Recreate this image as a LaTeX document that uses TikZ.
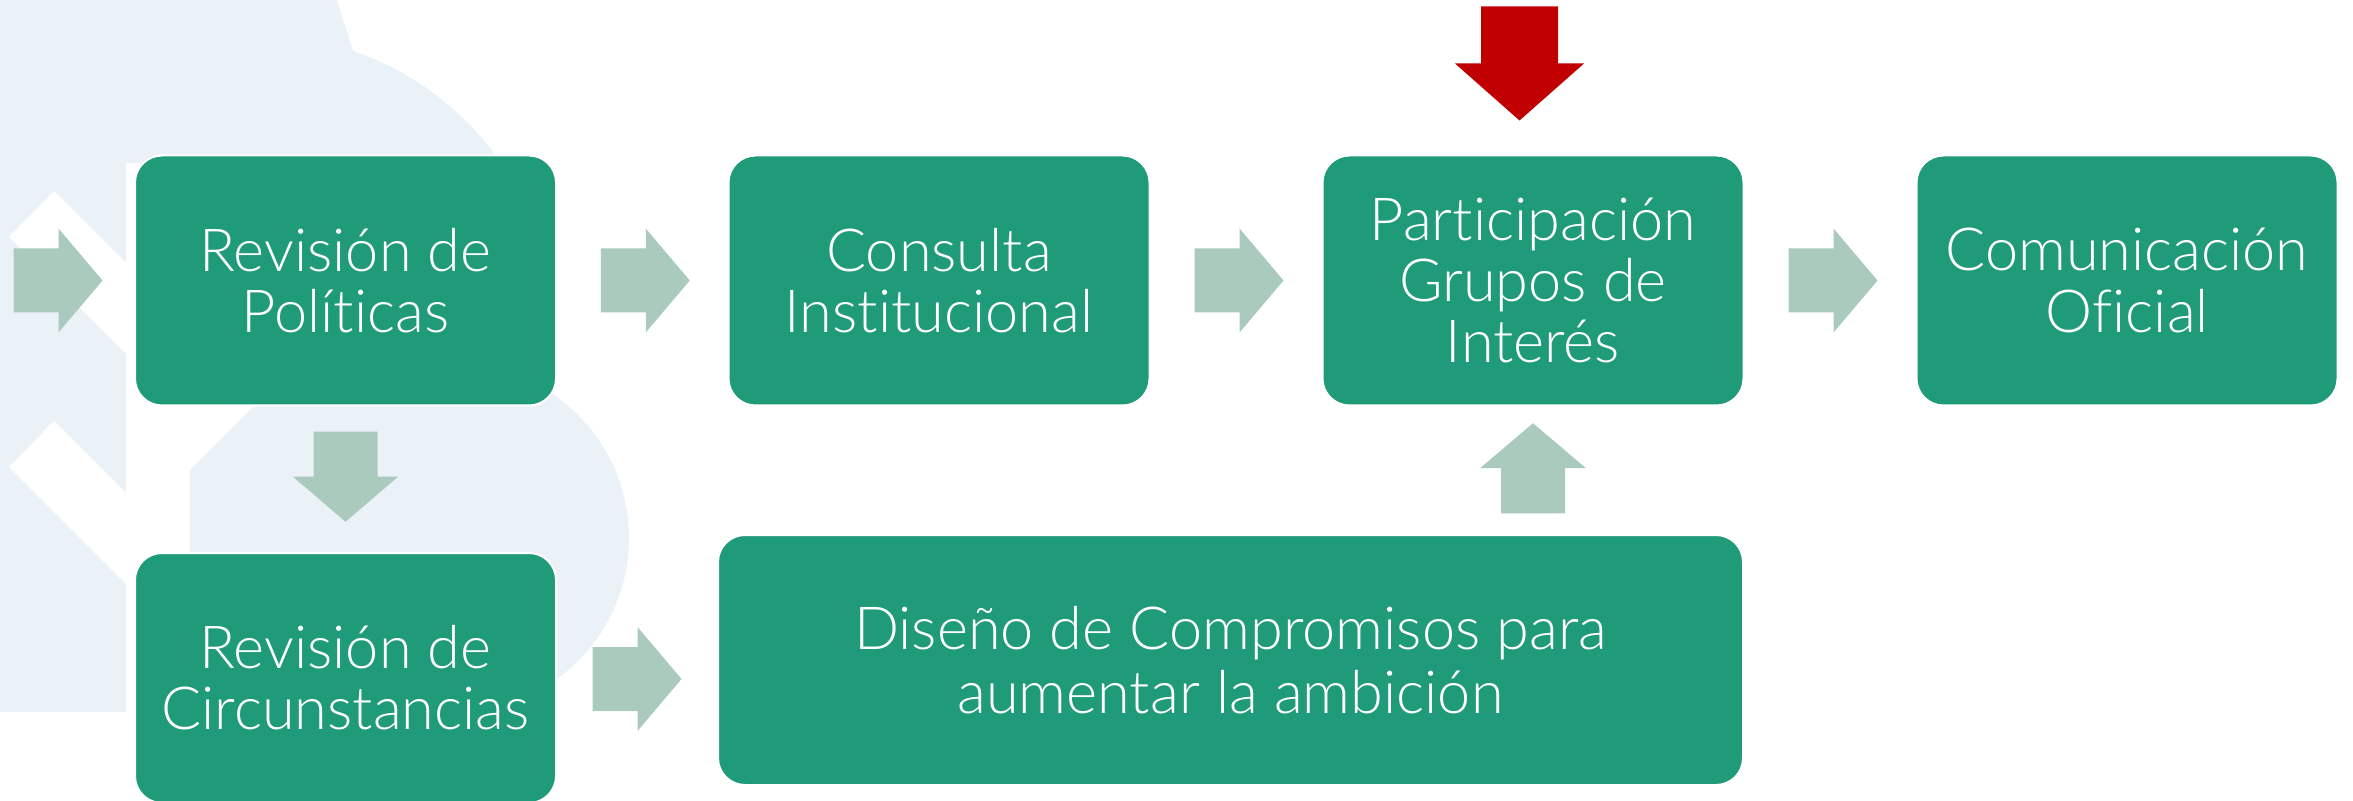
\documentclass[tikz,border=0pt]{standalone}
\usepackage{fontspec}
\IfFontExistsTF{Lato Light}{\setmainfont{Lato Light}[Ligatures={NoCommon,NoRare}]}{\setmainfont{Lato}[Ligatures={NoCommon,NoRare}]}
\usetikzlibrary{calc}
\definecolor{boxgreen}{HTML}{1F9B79}
\definecolor{sage}{HTML}{A9CABD}
\definecolor{wmblue}{HTML}{EAF2F8}
\definecolor{redarrow}{HTML}{C00000}
\newcommand{\rightblock}[1]{\fill[flowarrow] (#1) ++(-44.5,-32) -- ++(45,0) -- ++(0,-20) -- ++(44,52) -- ++(-44,52) -- ++(0,-20) -- ++(-45,0) -- cycle;}
\newcommand{\downblock}[1]{\fill[flowarrow] (#1) ++(-32,-45) -- ++(64,0) -- ++(0,45) -- ++(20.5,0) -- ++(-52.5,45) -- ++(-52.5,-45) -- ++(20.5,0) -- cycle;}
\newcommand{\upblock}[1]{\fill[flowarrow] (#1) ++(-32,45) -- ++(64,0) -- ++(0,-45) -- ++(21,0) -- ++(-53,-45) -- ++(-53,45) -- ++(21,0) -- cycle;}
\begin{document}
\begin{tikzpicture}[x=0.5pt,y=-0.5pt,
  stepbox/.style={rectangle, rounded corners=13.5pt, fill=boxgreen, draw=white, line width=1pt,
    text=white, align=center, minimum width=210.5pt, minimum height=125pt, inner sep=0pt,
    font=\fontsize{29.7}{30.6}\selectfont},
  flowarrow/.style={fill=sage},
  redblock/.style={fill=redarrow},
  watermark/.style={fill=wmblue}]
\useasboundingbox (0,0) rectangle (2353,801);
% background watermark
\fill[watermark] (0,0) rectangle (126,712);
\begin{scope}
  \clip (0,-10) -- (620,-10) -- (620,390) -- (140,390) -- (140,163) -- (0,163) -- cycle;
  \fill[watermark] (260,328) circle[radius=292];
\end{scope}
\fill[watermark] (0,0) -- (337,0) -- (353,51) -- (353,163) -- (0,163) -- cycle;
\fill[watermark] (190,712) -- (190,470) -- (296,364) -- (455,364) -- (455,712) -- cycle;
\fill[watermark] (455,538) circle[radius=174];
\fill[white] (9,237) -- (54,191) -- (126,263) -- (126,354) -- cycle;
\fill[white] (9,467) -- (54,421) -- (126,493) -- (126,584) -- cycle;
% boxes
\node[stepbox] (b1) at (345.5,280.5) {Revisión de\\Políticas};
\node[stepbox] (b2) at (939,280.5) {Consulta\\Institucional};
\node[stepbox] (b3) at (1533,280.5) {Participación\\Grupos de\\Interés};
\node[stepbox] (b4) at (2127,280.5) {Comunicación\\Oficial};
\node[stepbox] (b5) at (345.5,678) {Revisión de\\Circunstancias};
\node[stepbox, minimum width=512.5pt, font=\fontsize{29.7}{32}\selectfont] (b6) at (1230.5,660) {Diseño de Compromisos para\\aumentar la ambición};
% connectors
\coordinate (a0) at ($(b1.west)+(-76,0)$);
\rightblock{a0}
\coordinate (a12) at ($(b1.east)!.5!(b2.west)+(3,0)$);
\rightblock{a12}
\coordinate (a23) at ($(b2.east)!.5!(b3.west)+(3,0)$);
\rightblock{a23}
\coordinate (a34) at ($(b3.east)!.5!(b4.west)+(3,0)$);
\rightblock{a34}
\coordinate (a15) at ($(b1.south)!.5!(b5.north)+(0,-2.5)$);
\downblock{a15}
\coordinate (a56) at ($(b5.east)!.5!(b5.east -| b6.west)+(0,1)$);
\rightblock{a56}
\coordinate (a63) at ($(b3.south)!.5!(b3.south |- b6.north)+(0,-2)$);
\upblock{a63}
\coordinate (red) at ($(b3.north)+(-13.5,-91)$);
\fill[redblock] (red) ++(-38.5,-57) -- ++(77,0) -- ++(0,57) -- ++(26,0) -- ++(-64.5,57) -- ++(-64.5,-57) -- ++(26,0) -- cycle;
\end{tikzpicture}
\end{document}
